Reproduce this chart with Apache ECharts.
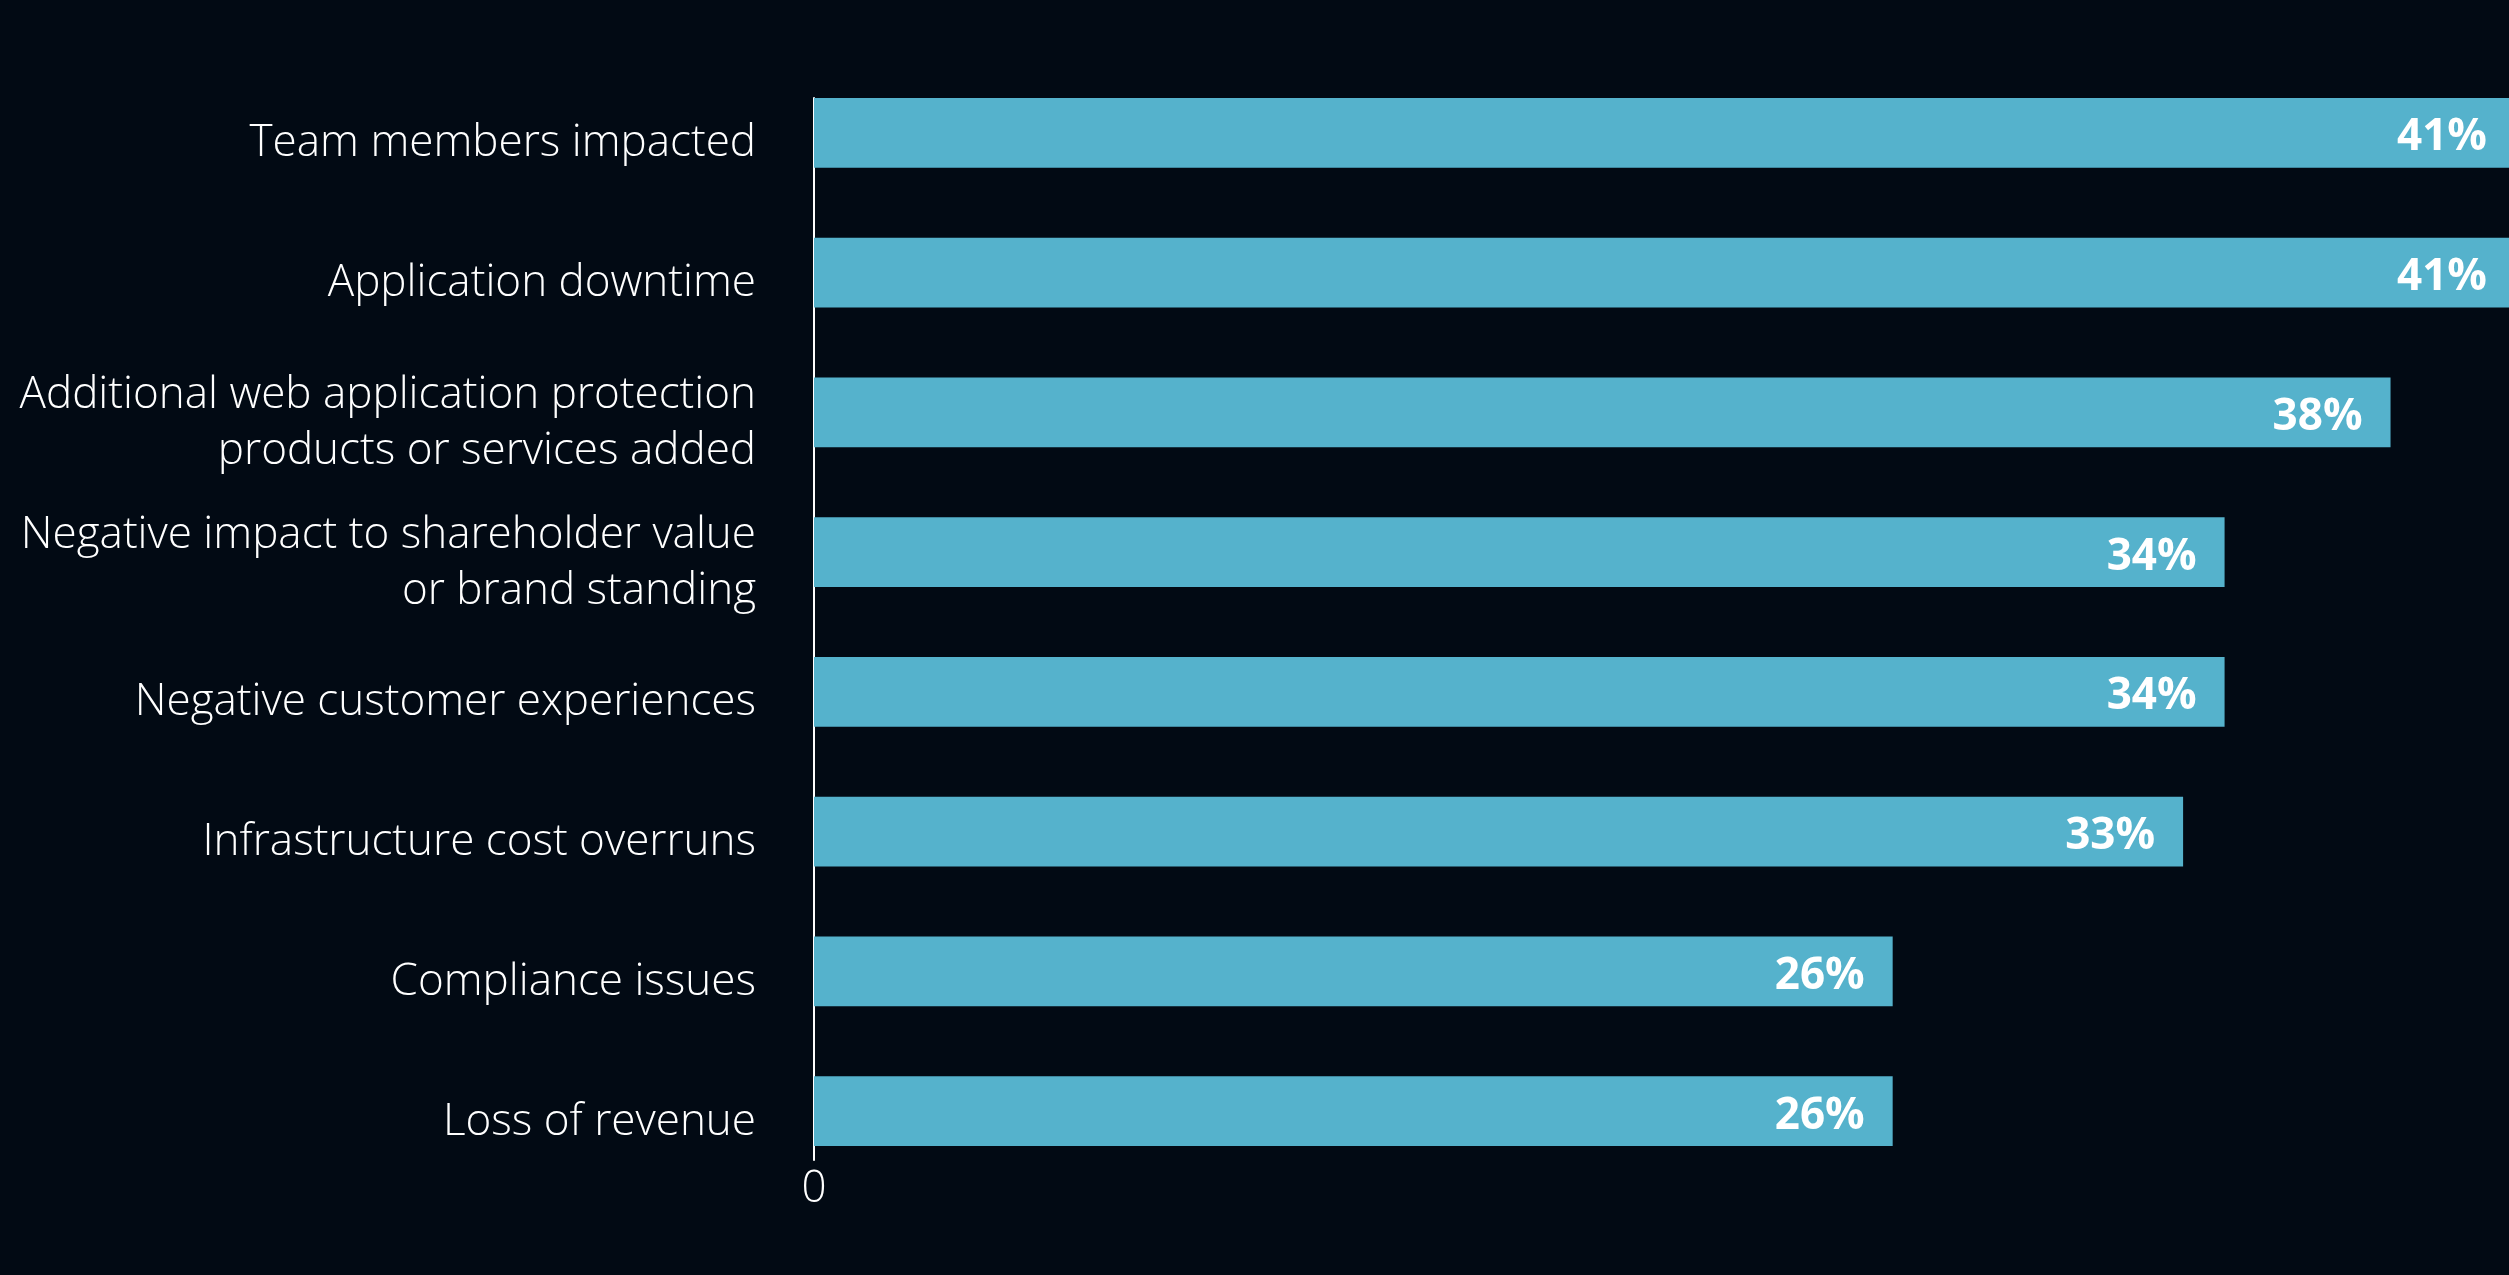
<!DOCTYPE html>
<html>
<head>
<meta charset="utf-8">
<script src="https://cdn.jsdelivr.net/npm/echarts@6/dist/echarts.min.js"></script>
<style>
  html, body { margin: 0; padding: 0; background: #020a14; overflow: hidden; }
  #chart { width: 2518px; height: 1275px; }
</style>
</head>
<body>
<div id="chart"></div>
<script>
const categories = [
  'Team members impacted',
  'Application downtime',
  'Additional web application protection\nproducts or services added',
  'Negative impact to shareholder value\nor brand standing',
  'Negative customer experiences',
  'Infrastructure cost overruns',
  'Compliance issues',
  'Loss of revenue'
];
const values = [41, 41, 38, 34, 34, 33, 26, 26];
const tickLabels = ['0'];

const chart = echarts.init(document.getElementById('chart'));
chart.setOption({
  backgroundColor: '#020a14',
  animation: false,
  grid: [
    { left: 814, right: 0, top: 63, bottom: 94, containLabel: false },
    { left: 814, right: 0, top: 98, bottom: 115, containLabel: false },
    { left: 814, right: 0, top: 74, bottom: 83, containLabel: false }
  ],
  xAxis: [{
    type: 'value',
    gridIndex: 0,
    min: 0,
    max: 41,
    interval: 41,
    splitLine: { show: false },
    axisLine: { show: false },
    axisTick: { show: false },
    axisLabel: {
      color: '#ffffff',
      fontFamily: 'Open Sans',
      fontWeight: 300,
      fontSize: 44,
      margin: -14,
      formatter: v => (tickLabels.indexOf(String(v)) >= 0 ? String(v) : '')
    }
  }, {
    type: 'value', gridIndex: 1, min: 0, max: 41, show: false
  }, {
    type: 'value', gridIndex: 2, min: 0, max: 41, show: false
  }],
  yAxis: [{
    type: 'category',
    gridIndex: 0,
    inverse: true,
    data: categories,
    axisLine: { show: false },
    axisTick: { show: false },
    axisLabel: { show: false }
  }, {
    type: 'category',
    gridIndex: 1,
    data: [''],
    axisLine: { show: true, lineStyle: { color: '#ffffff', width: 2 } },
    axisTick: { show: false },
    axisLabel: { show: false },
    splitLine: { show: false }
  }, {
    type: 'category',
    gridIndex: 2,
    inverse: true,
    data: categories,
    axisLine: { show: false },
    axisTick: { show: false },
    splitLine: { show: false },
    axisLabel: {
      color: '#ffffff',
      fontFamily: 'Open Sans',
      fontWeight: 300,
      fontSize: 44,
      lineHeight: 56,
      margin: 58,
      align: 'right'
    }
  }],
  series: [{
    type: 'bar',
    xAxisIndex: 0,
    yAxisIndex: 0,
    data: values,
    barWidth: '50%',
    itemStyle: { color: '#55b2cc' },
    label: {
      show: true,
      position: 'insideRight',
      distance: 28,
      offset: [0, 5],
      color: '#ffffff',
      fontFamily: 'Open Sans',
      fontWeight: 700,
      fontSize: 44,
      formatter: p => p.value + '%'
    }
  }]
});
</script>
</body>
</html>
